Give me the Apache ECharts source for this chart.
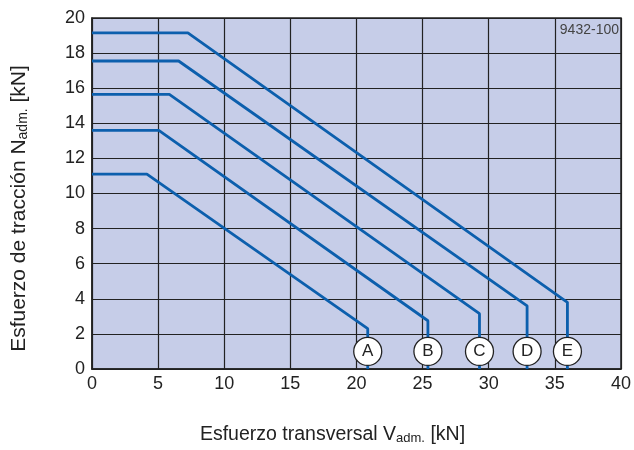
<!DOCTYPE html>
<html>
<head>
<meta charset="utf-8">
<script src="https://cdn.jsdelivr.net/npm/echarts@6/dist/echarts.min.js"></script>
<style>html,body{margin:0;padding:0;background:#fff;}#c{width:634px;height:450px;}</style>
</head>
<body>
<div id="c"></div>
<script>
const curveNames = ['A', 'B', 'C', 'D', 'E'];
const plateauN = [11.1, 13.6, 15.65, 17.55, 19.15];
const breakV = [4.15, 5.05, 5.85, 6.55, 7.25];
const endV = [20.85, 25.4, 29.3, 32.9, 35.95];
const endN = [2.3, 2.75, 3.15, 3.6, 3.8];
const markerN = 1.0;
const xTicks = [0, 5, 10, 15, 20, 25, 30, 35, 40];
const yTicks = [0, 2, 4, 6, 8, 10, 12, 14, 16, 18, 20];
const chartCode = '9432-100';

const chart = echarts.init(document.getElementById('c'));
const font = 'Liberation Sans, Arial, sans-serif';
const lineSeries = curveNames.map((n, i) => ({
  type: 'line',
  name: n,
  data: [[0, plateauN[i]], [breakV[i], plateauN[i]], [endV[i], endN[i]], [endV[i], 0]],
  symbol: 'none',
  lineStyle: { color: '#0c5fad', width: 2.8 },
  z: 3,
  animation: false
}));
const markerSeries = {
  type: 'scatter',
  data: curveNames.map((n, i) => ({ value: [endV[i], markerN], name: n })),
  symbol: 'circle',
  symbolSize: 28,
  itemStyle: { color: '#ffffff', borderColor: '#222', borderWidth: 1.3, opacity: 1 },
  label: { show: true, position: 'inside', formatter: p => p.name, fontSize: 17, color: '#222', fontFamily: font },
  z: 5,
  animation: false
};
chart.setOption({
  animation: false,
  grid: { left: 92, right: 12, top: 18, bottom: 79, show: true, backgroundColor: '#c6cde8', borderColor: '#222', borderWidth: 1.5 },
  xAxis: {
    type: 'value', min: 0, max: 40, interval: 5,
    axisLine: { show: true, lineStyle: { color: '#222', width: 1.5 } },
    axisTick: { show: false },
    splitLine: { show: true, lineStyle: { color: '#222', width: 1.2 } },
    axisLabel: { fontSize: 18, color: '#222', fontFamily: font, margin: 6, formatter: v => xTicks.includes(v) ? String(v) : '' },
    name: 'Esfuerzo transversal V{sub|adm.} [kN]',
    nameLocation: 'middle', nameGap: 56,
    nameTextStyle: { fontSize: 19.5, color: '#222', fontFamily: font, padding: [0, 48, 0, 0], rich: { sub: { fontSize: 13, color: '#222', fontFamily: font, verticalAlign: 'bottom', padding: [6, 0, 0, 0] } } }
  },
  yAxis: {
    type: 'value', min: 0, max: 20, interval: 2,
    axisLine: { show: true, lineStyle: { color: '#222', width: 1.5 } },
    axisTick: { show: false },
    splitLine: { show: true, lineStyle: { color: '#222', width: 1.2 } },
    axisLabel: { fontSize: 18, color: '#222', fontFamily: font, margin: 7, formatter: v => yTicks.includes(v) ? String(v) : '' },
    name: 'Esfuerzo de tracción N{sub|adm.} [kN]',
    nameLocation: 'middle', nameGap: 62,
    nameTextStyle: { fontSize: 21, color: '#222', fontFamily: font, padding: [0, 30, 0, 0], rich: { sub: { fontSize: 14, color: '#222', fontFamily: font, verticalAlign: 'bottom', padding: [7, 0, 0, 0] } } }
  },
  graphic: [{
    type: 'text', right: 15, top: 23, z: 10,
    style: { text: chartCode, fontSize: 14, fill: '#444', fontFamily: 'Liberation Sans Narrow, Liberation Sans, Arial, sans-serif' }
  }],
  series: [...lineSeries, markerSeries]
});
</script>
</body>
</html>
